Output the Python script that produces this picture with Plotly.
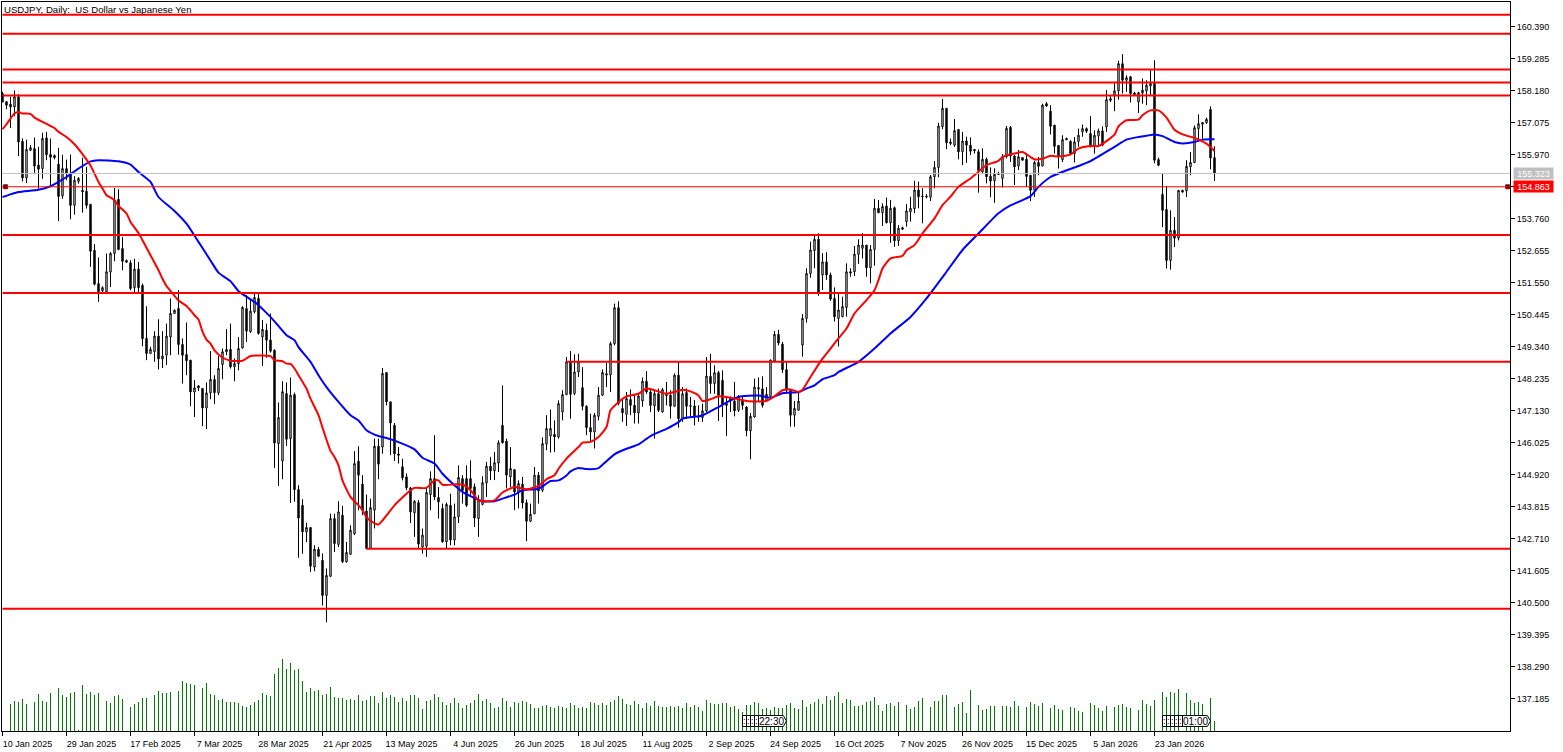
import plotly.graph_objs as go

# daily bars, oldest first. prices
opens = [
    158.08,157.80,157.71,157.62,157.97,156.43,155.17,156.12,156.18,155.61,
    155.49,156.55,155.98,155.94,155.64,154.55,155.49,155.34,154.22,155.05,
    154.74,154.71,154.26,152.67,151.52,151.27,151.24,151.92,152.56,154.43,
    152.73,152.32,152.24,151.38,152.02,151.46,149.63,149.11,149.17,149.71,
    148.92,149.05,149.68,150.49,150.66,149.42,149.07,148.88,147.78,147.92,
    147.90,147.23,147.75,148.21,147.75,148.73,149.17,149.25,148.65,148.76,
    149.30,150.66,149.86,150.55,151.01,149.68,149.91,149.57,149.22,146.00,
    145.40,147.73,146.17,147.69,144.41,143.87,142.95,143.10,141.74,142.35,
    141.97,140.76,141.42,143.41,142.52,143.53,141.92,142.18,142.89,145.39,
    144.60,143.67,142.38,143.70,145.91,145.88,148.45,147.44,146.63,145.64,
    145.20,144.85,144.47,143.61,143.96,142.43,142.46,144.24,144.79,144.14,
    143.76,142.61,143.87,142.67,143.47,144.79,144.79,144.79,144.51,143.41,
    143.90,144.64,145.22,145.06,145.33,146.63,146.08,144.85,145.10,144.33,
    144.60,143.96,143.32,143.58,144.91,144.39,145.98,146.26,146.32,146.23,
    147.09,147.69,148.82,147.73,148.47,147.93,147.29,146.55,146.40,146.94,
    147.67,148.41,148.37,149.45,150.69,147.21,147.01,147.52,147.32,147.06,
    147.47,148.15,147.78,147.30,147.72,147.09,147.70,147.67,147.29,148.36,
    146.86,147.76,147.31,147.30,146.94,146.90,147.13,148.32,148.07,148.45,
    148.18,147.38,147.59,147.47,147.15,147.50,147.26,146.44,146.92,147.93,
    147.89,147.47,147.63,148.85,149.77,149.43,148.55,147.84,146.98,147.15,
    149.40,150.32,151.87,152.66,153.05,151.82,152.27,151.82,151.01,150.32,
    150.38,150.70,151.93,151.93,152.53,152.74,152.85,152.07,152.70,154.12,
    153.97,154.20,153.62,154.14,153.00,153.45,153.66,154.00,154.11,154.75,
    154.54,154.54,154.50,155.21,155.53,156.94,157.57,156.41,156.30,156.84,
    156.07,156.44,156.30,156.15,156.07,155.38,155.81,155.23,155.07,155.32,
    155.15,155.90,156.91,155.92,155.58,155.87,155.81,155.26,154.74,155.70,
    155.58,157.73,157.47,156.99,156.29,155.80,156.53,156.43,156.01,156.43,
    156.76,156.87,156.70,156.26,156.61,156.79,156.93,157.90,158.02,158.17,
    159.11,158.54,158.66,158.10,157.79,158.10,158.17,158.34,158.43,155.80,
    154.60,154.08,152.32,153.36,153.09,154.74,154.72,155.55,155.70,156.87,
    157.02,157.07,157.53,155.87]

highs = [
    158.14,157.81,157.97,158.19,158.06,156.53,156.49,156.30,156.56,156.24,
    156.73,156.76,156.53,155.98,156.21,155.97,155.80,155.98,155.23,155.20,
    155.87,155.55,154.26,152.88,152.42,151.43,152.56,152.61,154.82,154.78,
    153.13,152.35,152.33,152.38,152.27,151.52,150.74,149.34,149.88,150.29,
    149.88,150.14,151.01,150.63,151.30,149.63,150.18,148.88,148.19,148.02,
    147.90,148.11,149.19,148.36,149.02,149.28,149.95,150.14,148.94,149.68,
    150.74,151.12,150.95,151.16,151.16,150.26,150.14,150.49,149.25,147.42,
    148.15,148.11,148.28,147.76,144.56,144.08,143.27,143.12,142.49,142.43,
    142.21,141.69,143.58,143.58,144.01,143.85,142.61,143.18,145.74,145.91,
    144.91,144.24,144.10,146.17,146.17,148.61,148.45,147.44,146.71,145.88,
    145.48,144.97,144.50,144.05,144.05,143.07,144.50,145.04,146.29,144.50,
    143.93,143.97,144.27,143.93,145.25,144.91,145.25,145.42,144.62,144.22,
    144.87,145.37,145.54,145.71,146.11,148.01,146.17,145.88,145.10,144.73,
    144.85,144.07,143.93,145.19,145.02,146.21,146.98,147.17,146.80,147.49,
    147.84,148.99,149.19,149.08,149.10,148.64,147.32,147.03,147.06,147.95,
    148.56,148.78,149.51,150.83,150.91,147.55,147.78,147.87,147.67,147.72,
    148.28,148.50,147.90,147.84,147.90,147.92,148.13,147.84,148.42,148.82,
    147.95,147.90,147.61,147.50,147.32,147.38,148.99,149.10,148.70,148.51,
    148.53,147.59,147.63,148.13,147.67,147.61,147.29,147.06,148.24,148.28,
    148.32,147.95,148.90,149.89,149.93,149.51,148.82,147.86,147.47,147.78,
    150.47,152.05,152.97,153.20,153.26,152.57,152.60,151.90,151.39,151.19,
    151.07,152.22,152.05,152.82,153.05,153.26,152.85,152.85,154.44,154.41,
    154.29,154.49,154.41,154.18,153.54,153.49,154.27,154.52,155.07,155.04,
    154.81,154.61,155.27,155.75,157.07,157.89,157.57,156.53,157.20,156.84,
    156.76,156.59,156.57,156.15,156.15,156.19,155.87,155.53,155.50,155.38,
    155.99,156.96,156.96,155.96,156.13,155.89,155.97,155.26,155.76,155.89,
    157.73,157.79,157.68,156.99,156.30,156.64,156.56,156.47,156.58,156.87,
    157.01,156.91,157.30,156.81,156.87,156.95,158.20,158.02,158.43,159.21,
    159.44,158.71,158.68,158.14,158.14,158.60,158.54,158.89,159.23,155.87,
    155.34,154.88,154.05,153.82,154.74,154.76,155.78,156.06,156.98,157.36,
    157.10,157.25,157.64,156.26]

lows = [
    157.79,157.54,156.89,157.30,155.92,155.05,154.99,156.10,155.34,154.80,
    155.14,155.78,154.88,155.81,153.68,154.45,155.09,153.74,153.90,154.97,
    153.97,154.11,152.10,151.46,150.89,151.23,151.17,151.40,152.29,152.67,
    151.98,152.23,151.29,151.21,151.17,149.36,148.88,149.09,148.82,148.56,
    148.61,148.71,149.05,150.47,149.07,148.07,148.36,147.29,146.92,147.81,
    146.60,146.50,147.53,147.36,147.67,148.22,149.05,148.59,148.15,148.53,
    149.28,149.51,149.82,150.49,149.76,148.68,148.96,149.14,145.16,144.54,
    144.77,145.92,143.95,143.99,142.06,142.20,142.60,141.57,141.59,142.08,
    140.41,139.83,141.39,142.26,142.43,141.88,141.89,142.15,142.84,143.70,
    143.53,142.35,142.35,143.07,144.77,145.65,147.32,145.60,145.40,145.31,
    144.73,144.39,143.26,142.78,142.38,142.20,142.09,143.70,144.05,143.41,
    142.58,142.38,142.49,142.49,143.26,143.93,143.81,144.16,143.12,142.78,
    143.87,144.16,144.74,144.74,145.02,146.00,144.45,144.50,143.70,143.76,
    143.76,142.63,143.29,143.56,143.93,144.33,145.77,145.69,145.71,146.17,
    146.80,147.67,146.86,147.67,148.30,147.15,146.29,146.06,145.83,146.80,
    147.64,147.95,147.78,149.39,147.32,146.75,146.61,146.98,146.69,146.69,
    147.27,147.72,147.09,146.17,147.09,147.07,147.32,146.86,147.27,146.55,
    146.75,146.86,146.94,146.63,146.75,146.75,147.09,147.72,147.72,146.78,
    146.92,146.26,147.09,146.94,147.09,147.17,146.25,145.46,146.89,147.44,
    147.24,147.44,147.61,148.83,149.39,148.44,147.78,146.58,146.58,147.13,
    149.00,150.17,151.72,152.05,151.10,151.30,151.65,150.93,150.21,149.35,
    150.36,150.38,151.76,151.78,152.20,152.39,151.76,151.53,152.14,153.95,
    153.51,153.60,152.93,152.79,152.82,153.37,153.49,153.66,153.95,154.12,
    153.60,154.46,154.37,154.81,155.19,156.85,156.16,156.30,156.24,155.81,
    155.61,155.69,155.96,156.01,154.66,155.33,154.98,154.50,154.31,155.27,
    154.84,155.84,155.72,154.92,155.44,155.76,154.86,154.37,154.51,155.26,
    155.57,157.62,156.67,156.01,155.49,155.72,156.47,155.95,155.70,156.24,
    156.59,156.72,156.22,156.01,156.24,156.26,156.76,157.79,157.47,157.87,
    158.08,158.14,157.77,158.02,157.41,157.73,157.68,158.02,155.67,155.57,
    153.47,152.04,152.00,152.78,153.01,154.66,154.51,155.26,155.68,156.41,
    156.52,157.04,155.47,155.06]

closes = [
    157.79,157.68,157.62,157.97,156.41,155.17,156.15,156.21,155.58,155.47,
    156.53,155.97,155.88,155.87,154.53,155.49,155.34,154.22,155.09,155.15,
    154.69,154.22,152.64,151.50,151.24,151.38,151.93,152.56,154.40,152.70,
    152.29,152.26,151.35,152.02,151.38,149.62,149.11,149.25,149.71,148.92,
    149.02,149.71,150.49,150.60,149.42,149.05,148.86,147.78,147.92,147.99,
    147.23,147.75,148.21,147.76,148.59,149.17,149.25,148.65,148.76,149.28,
    150.70,149.88,150.57,151.04,149.80,149.94,149.57,149.19,146.02,146.90,
    147.79,146.15,147.67,144.41,143.43,142.95,143.10,141.77,142.35,142.11,
    140.76,141.45,143.41,142.55,143.64,141.92,142.24,143.01,145.31,144.91,
    143.70,142.38,143.79,145.91,145.29,148.42,147.44,146.71,145.65,145.60,
    144.82,144.47,143.64,144.01,142.53,142.84,144.31,144.79,144.16,143.99,
    142.61,143.90,142.67,143.47,144.83,144.39,143.87,144.45,143.43,144.05,
    144.65,145.22,145.06,145.34,146.03,146.03,144.91,145.14,144.33,144.62,
    143.95,143.32,143.56,144.91,144.37,146.00,146.52,146.52,146.23,147.38,
    147.69,148.82,147.70,148.47,148.82,147.29,146.55,146.40,146.98,147.67,
    148.45,148.37,149.45,150.69,147.38,147.06,147.55,147.32,147.06,147.64,
    148.15,147.78,147.32,147.72,147.15,147.86,147.66,147.29,148.36,146.86,
    147.72,147.29,147.29,146.92,146.92,147.13,148.33,148.07,148.45,147.67,
    147.36,147.32,147.50,147.13,147.63,147.32,146.44,146.94,147.95,147.89,
    147.32,147.70,148.88,149.77,149.47,148.55,147.84,146.98,147.21,147.46,
    150.32,151.87,152.68,153.05,151.19,152.27,151.82,150.99,150.38,150.61,
    150.73,151.93,151.89,152.54,152.85,152.85,152.07,152.70,154.12,153.97,
    154.18,153.62,154.12,153.00,153.43,153.40,154.03,154.12,154.75,154.52,
    154.52,154.52,155.21,155.53,156.96,157.57,156.38,156.36,156.80,156.07,
    156.44,156.30,156.09,156.11,155.42,155.81,155.21,155.06,155.29,155.29,
    155.90,156.88,155.92,155.55,155.90,155.78,155.22,154.74,155.70,155.57,
    157.68,157.65,156.95,156.26,155.93,156.49,156.49,156.01,156.41,156.64,
    156.87,156.78,156.26,156.64,156.79,156.30,157.87,157.85,158.17,159.11,
    158.54,158.63,158.08,158.05,158.11,158.20,158.37,158.43,155.78,155.61,
    154.05,152.32,153.36,153.09,154.74,154.68,155.57,155.70,156.90,157.04,
    157.08,157.19,155.86,155.32]

# tick volume, thousands
volumes = [
    0,0,27,30,29,32,27,0,29,37,30,29,38,0,43,36,34,38,39,1,
    46,37,39,36,38,0,30,28,35,36,32,0,24,27,29,33,33,0,36,40,
    38,38,39,0,40,50,48,47,46,0,43,48,37,36,31,32,29,29,29,28,
    25,24,26,29,31,38,36,35,57,63,72,62,68,61,62,50,39,43,40,41,
    36,37,44,34,33,33,31,32,31,36,30,31,35,35,28,39,33,36,34,29,
    33,30,36,36,33,22,30,31,37,34,29,26,28,33,28,23,26,28,31,37,
    30,32,28,23,24,33,30,24,29,28,30,29,27,23,23,25,26,24,23,25,
    24,23,28,26,23,24,23,29,28,26,28,26,29,31,35,32,27,26,30,27,
    23,28,25,30,25,24,24,25,24,25,23,28,24,26,24,20,31,28,27,27,
    28,28,24,25,22,19,26,26,29,28,22,23,21,24,23,23,26,28,23,22,
    31,24,27,29,32,27,35,31,35,39,28,32,31,25,25,26,29,30,34,26,
    20,27,28,25,29,0,26,22,24,30,33,0,24,30,30,36,36,0,24,27,
    29,18,41,0,26,21,22,25,25,0,25,25,24,30,25,0,24,29,27,25,
    28,0,23,26,22,21,0,24,23,20,19,0,28,26,23,20,25,0,24,26,
    27,24,23,0,21,31,27,25,31,0,39,34,39,38,42,0,38,31,28,29,
    27,0,33,10]

# moving averages, read at the bars where the line bends
red_bars = [0,1,2,3,4,5,7,8,10,12,13,14,16,18,20,22,23,24,25,26,27,28,29,31,32,34,35,37,38,39,
            40,41,42,44,46,47,48,49,50,51,52,53,55,57,60,62,67,68,70,71,72,73,74,75,76,77,79,80,82,83,
            84,85,87,89,90,91,92,94,96,98,99,101,103,106,108,109,110,113,115,117,119,120,123,125,128,131,134,136,138,139,
            141,144,145,147,149,151,152,154,156,159,161,163,166,168,170,172,174,175,177,179,181,184,186,191,193,195,197,199,200,202,
            205,207,209,211,213,216,218,219,220,222,225,226,228,230,233,235,237,239,242,244,246,249,250,253,255,257,258,260,262,264,
            267,269,272,274,276,278,279,281,284,285,287,289,291,293,295,298,299,301,303]
red_ma = [156.85,157.02,157.22,157.39,157.44,157.39,157.38,157.25,157.10,156.96,156.89,156.76,156.58,156.33,155.99,155.60,155.32,155.03,154.80,154.57,154.49,154.40,154.20,153.94,153.65,153.27,153.02,152.50,152.24,151.98,
          151.69,151.44,151.27,150.94,150.75,150.60,150.43,150.28,149.86,149.59,149.45,149.22,148.97,148.86,148.86,149.02,149.02,148.88,148.84,148.76,148.75,148.59,148.36,148.13,147.90,147.55,146.98,146.55,145.75,145.54,
          145.25,144.73,144.16,143.87,143.70,143.46,143.33,143.21,143.52,143.87,144.01,144.27,144.47,144.47,144.73,144.73,144.58,144.59,144.59,144.39,144.04,144.01,144.04,144.31,144.50,144.42,144.54,144.77,144.91,145.13,
          145.48,145.88,146.03,146.06,146.23,146.57,147.15,147.43,147.63,147.72,147.90,147.84,147.72,147.78,147.86,147.80,147.66,147.47,147.53,147.63,147.61,147.53,147.47,147.47,147.63,147.84,147.87,147.78,147.86,148.30,
          148.93,149.28,149.63,149.97,150.49,150.95,151.29,151.64,152.04,152.39,152.48,152.67,152.85,153.25,153.77,154.23,154.52,154.86,155.15,155.38,155.61,155.76,155.89,156.01,156.06,155.89,155.81,155.83,155.93,155.91,
          155.98,156.18,156.27,156.27,156.44,156.66,156.95,157.16,157.18,157.33,157.50,157.50,157.25,156.83,156.67,156.55,156.49,156.35,156.10]

blue_bars = [0,2,4,9,12,14,16,19,22,24,29,32,34,37,39,43,46,49,52,54,57,59,63,66,68,71,73,74,77,79,
             81,84,87,89,91,94,96,99,103,105,108,110,113,115,118,120,123,125,128,130,134,137,139,141,142,144,146,149,150,153,
             156,159,162,166,169,170,174,175,179,182,184,189,192,195,199,201,203,205,208,209,214,218,222,227,231,236,240,244,249,252,
             254,257,259,262,269,272,278,281,284,286,288,290,293,295,298,300,303]
blue_ma = [154.51,154.60,154.68,154.76,154.88,155.03,155.20,155.49,155.74,155.78,155.74,155.63,155.37,155.03,154.51,154.03,153.59,152.96,152.32,151.90,151.60,151.26,150.89,150.51,150.22,149.74,149.57,149.33,148.82,148.36,
           147.95,147.44,146.98,146.80,146.46,146.26,146.19,146.05,145.80,145.51,145.31,144.96,144.56,144.33,144.12,144.01,144.01,144.10,144.24,144.39,144.44,144.71,144.73,144.90,145.04,145.16,145.12,145.15,145.27,145.63,
           145.82,145.97,146.26,146.51,146.74,146.86,146.94,146.97,147.26,147.49,147.61,147.66,147.58,147.74,147.78,147.90,148.01,148.22,148.36,148.47,148.82,149.28,149.80,150.37,151.01,151.93,152.68,153.25,153.95,154.22,
           154.34,154.54,154.86,155.20,155.58,155.75,156.24,156.49,156.58,156.62,156.67,156.61,156.41,156.36,156.41,156.49,156.50]

# horizontal levels: price and the bar each one starts from
level_prices = [160.80, 160.14, 158.91, 158.46, 158.01, 153.20, 151.20, 148.82, 142.37, 140.30]
level_starts = [0, 0, 0, 0, 0, 0, 0, 141, 91, 0]

bid_price = 154.863
last_price = 155.323

price_ticks = [137.185, 138.290, 139.395, 140.500, 141.605, 142.710, 143.815, 144.920, 146.025, 147.130,
               148.235, 149.340, 150.445, 151.550, 152.655, 153.760, 154.865, 155.970, 157.075, 158.180,
               159.285, 160.390]
date_labels = ['10 Jan 2025', '29 Jan 2025', '17 Feb 2025', '7 Mar 2025', '28 Mar 2025', '21 Apr 2025',
               '13 May 2025', '4 Jun 2025', '26 Jun 2025', '18 Jul 2025', '11 Aug 2025', '2 Sep 2025',
               '24 Sep 2025', '16 Oct 2025', '7 Nov 2025', '26 Nov 2025', '15 Dec 2025', '5 Jan 2026',
               '23 Jan 2026']

bars = list(range(len(closes)))
FONT = 'Liberation Sans'
X_MIN, X_MAX = -0.125, 376.875

# volume stems, one px wide, so a broken line instead of go.Bar
stem_x, stem_y = [], []
for b, v in zip(bars, volumes):
    if v > 0:
        stem_x += [b, b, None]
        stem_y += [0, v, None]

data = [
    go.Scatter(x=stem_x, y=stem_y, yaxis='y2', mode='lines', line=dict(color='#008000', width=1)),
    go.Candlestick(x=bars, open=opens, high=highs, low=lows, close=closes, whiskerwidth=0,
                   increasing=dict(line=dict(color='black', width=1), fillcolor='white'),
                   decreasing=dict(line=dict(color='black', width=1), fillcolor='black')),
    go.Scatter(x=blue_bars, y=blue_ma, mode='lines', line=dict(color='#0000ff', width=2, shape='spline', smoothing=0.6)),
    go.Scatter(x=red_bars, y=red_ma, mode='lines', line=dict(color='#ff0000', width=2, shape='spline', smoothing=0.6)),
    go.Scatter(x=[0.75, 376.3], y=[bid_price, bid_price], mode='markers', cliponaxis=False,
               marker=dict(symbol='square', size=4, color='black', line=dict(color='#c00000', width=1))),
]

shapes = []
for price, start in zip(level_prices, level_starts):
    shapes.append(dict(type='line', xref='x', yref='y', x0=max(start, X_MIN), x1=X_MAX, y0=price, y1=price,
                       line=dict(color='#ff0000', width=2)))
shapes.append(dict(type='line', xref='x', yref='y', x0=X_MIN, x1=X_MAX, y0=last_price, y1=last_price,
                   line=dict(color='#c0c0c0', width=1)))
shapes.append(dict(type='line', xref='x', yref='y', x0=X_MIN, x1=X_MAX, y0=bid_price, y1=bid_price,
                   line=dict(color='#ff0000', width=1)))

annotations = [
    dict(text='USDJPY, Daily:  US Dollar vs Japanese Yen', xref='paper', yref='paper', x=0.0003, y=0.9995,
         xanchor='left', yanchor='top', showarrow=False, font=dict(family=FONT, size=9.6, color='black')),
    dict(text=f'{last_price:.3f}', xref='paper', yref='y', x=1.002, y=last_price, xanchor='left', yanchor='middle',
         showarrow=False, bgcolor='#c0c0c0', width=39, height=11, borderpad=0,
         font=dict(family=FONT, size=9, color='white')),
    dict(text=f'{bid_price:.3f}', xref='paper', yref='y', x=1.002, y=bid_price, xanchor='left', yanchor='middle',
         showarrow=False, bgcolor='#ff0000', width=39, height=11, borderpad=0,
         font=dict(family=FONT, size=9, color='white')),
]

# event flags along the bottom edge: stack of collapsed flags, then the open one
for first, label, stack in [(189, '22:30', [185, 186, 187, 188]), (295, '01:00', [290, 291, 292, 293, 294])]:
    for s in stack:
        shapes.append(dict(type='rect', xref='x', yref='paper', x0=s, x1=s + 1.2, y0=0.0062, y1=0.0213,
                           fillcolor='white', line=dict(color='black', width=1)))
        annotations.append(dict(text=':', xref='x', yref='paper', x=s + 0.6, y=0.0137, showarrow=False,
                                xanchor='center', yanchor='middle', font=dict(family=FONT, size=9, color='black')))
    shapes.append(dict(type='path', xref='x', yref='paper', fillcolor='white', line=dict(color='black', width=1),
                       path=f'M {first},0.0062 L {first + 6.2},0.0062 L {first + 7},0.0137 '
                            f'L {first + 6.2},0.0213 L {first},0.0213 Z'))
    annotations.append(dict(text=label, xref='x', yref='paper', x=first + 3.2, y=0.0137, showarrow=False,
                            xanchor='center', yanchor='middle', font=dict(family=FONT, size=10, color='black')))

layout = go.Layout(
    width=1563, height=752, autosize=False,
    margin=dict(l=2, r=53, t=2, b=21, pad=0),
    paper_bgcolor='white', plot_bgcolor='white',
    showlegend=False, hovermode=False, boxgap=0.5,
    font=dict(family=FONT, size=9, color='black'),
    xaxis=dict(range=[X_MIN, X_MAX], rangeslider=dict(visible=False), showgrid=False, zeroline=False,
               showline=True, linecolor='black', linewidth=1, mirror=True,
               tickmode='array', tickvals=[16 * i for i in range(len(date_labels))], ticktext=date_labels,
               ticks='outside', ticklen=4, tickwidth=1, tickcolor='black', tickangle=0,
               ticklabelshift=25, ticklabeloverflow='allow', tickfont=dict(family=FONT, size=9)),
    yaxis=dict(range=[136.08, 161.24], side='right', showgrid=False, zeroline=False,
               showline=True, linecolor='black', linewidth=1, mirror=True,
               tickmode='array', tickvals=price_ticks, ticktext=[f'{p:.3f}' for p in price_ticks],
               ticks='outside', ticklen=4, tickwidth=1, tickcolor='black',
               tickfont=dict(family=FONT, size=9)),
    yaxis2=dict(range=[0, 728.5], overlaying='y', side='left', visible=False),
    shapes=shapes,
    annotations=annotations,
)

fig = go.Figure(data=data, layout=layout)
fig.write_html("out.html", config=dict(displayModeBar=False),
               post_script="document.body.style.margin='0';document.body.style.overflow='hidden';")
